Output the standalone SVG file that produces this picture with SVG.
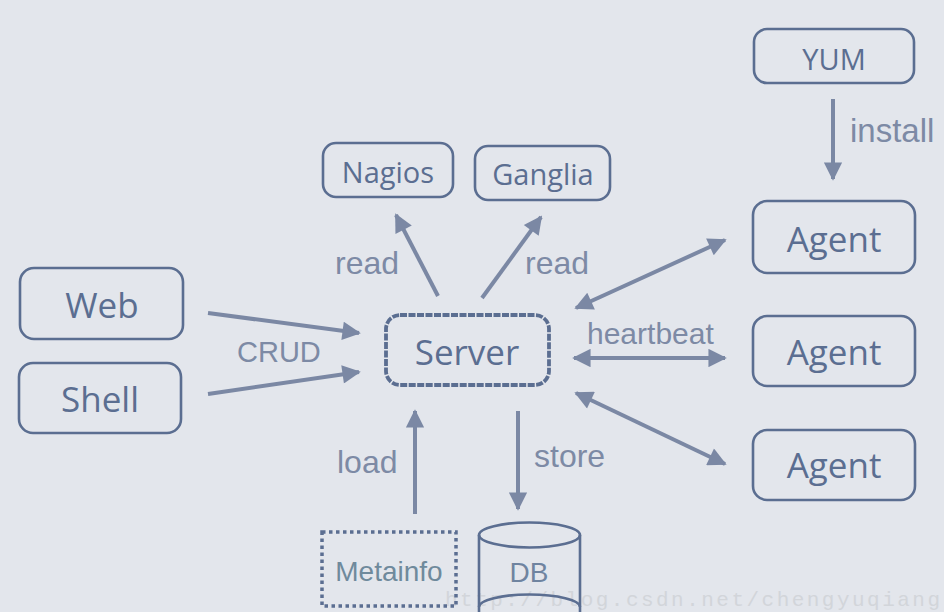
<svg xmlns="http://www.w3.org/2000/svg" width="944" height="612" viewBox="0 0 944 612">
<style>
.node{fill:none;stroke:#5b6e91;stroke-width:2.6}
.ntext{font-family:"Comic Sans MS","Open Sans","DejaVu Sans",sans-serif;fill:#5b6e91;text-anchor:middle}
.big{font-size:35px}
.small{font-size:29px}
.lbl{font-family:"Liberation Sans",Arial,sans-serif;font-size:32px;fill:#7d8aa5}
.conn{stroke:#7b88a4;stroke-width:4;fill:none}
</style>
<defs>
<marker id="ah" viewBox="0 0 10 10" refX="9" refY="5" markerWidth="5" markerHeight="4.6" orient="auto-start-reverse" markerUnits="strokeWidth">
<path d="M0,0 L10,5 L0,10 z" fill="#7b88a4"/>
</marker>
</defs>
<rect width="944" height="612" fill="#e3e6ec"/>
<text x="445" y="606" font-family="Liberation Mono,monospace" font-size="21" fill="#d2d5da" textLength="495">http://blog.csdn.net/chengyuqiang</text>

<g id="connectors">
<line class="conn" x1="833" y1="99" x2="833" y2="179" marker-end="url(#ah)"/>
<line class="conn" x1="208" y1="313" x2="359" y2="333" marker-end="url(#ah)"/>
<line class="conn" x1="208" y1="394" x2="359" y2="372" marker-end="url(#ah)"/>
<line class="conn" x1="438" y1="296" x2="396" y2="215" marker-end="url(#ah)"/>
<line class="conn" x1="482" y1="298" x2="541" y2="217" marker-end="url(#ah)"/>
<line class="conn" x1="576" y1="308" x2="725" y2="240" marker-start="url(#ah)" marker-end="url(#ah)"/>
<line class="conn" x1="574" y1="358" x2="725" y2="358" marker-start="url(#ah)" marker-end="url(#ah)"/>
<line class="conn" x1="576" y1="393" x2="725" y2="464" marker-start="url(#ah)" marker-end="url(#ah)"/>
<line class="conn" x1="415" y1="514" x2="415" y2="411" marker-end="url(#ah)"/>
<line class="conn" x1="518" y1="411" x2="518" y2="509" marker-end="url(#ah)"/>
<text class="lbl" x="850" y="142" style="font-size:33px">install</text>
<text class="lbl" x="237" y="362" style="font-size:29px">CRUD</text>
<text class="lbl" x="335" y="274">read</text>
<text class="lbl" x="525" y="274">read</text>
<text class="lbl" x="587" y="344" style="font-size:30px">heartbeat</text>
<text class="lbl" x="337" y="473">load</text>
<text class="lbl" x="534" y="467">store</text>
</g>

<g id="yum"><rect class="node" x="754" y="29" width="160" height="54" rx="13"/><text class="ntext small" x="834" y="70">YUM</text></g>
<g id="nagios"><rect class="node" x="323" y="143" width="130" height="54" rx="13"/><text class="ntext small" x="388" y="183">Nagios</text></g>
<g id="ganglia"><rect class="node" x="475" y="146" width="135" height="54" rx="13"/><text class="ntext small" x="543" y="185">Ganglia</text></g>
<g id="web"><rect class="node" x="20" y="268" width="163" height="71" rx="14"/><text class="ntext big" x="102" y="318">Web</text></g>
<g id="shell"><rect class="node" x="19" y="363" width="162" height="70" rx="14"/><text class="ntext big" x="100" y="412">Shell</text></g>
<g id="server"><rect x="386" y="315" width="163" height="70" rx="14" fill="none" stroke="#5b6e91" stroke-width="3.8" stroke-dasharray="7 1.5"/><text class="ntext big" x="467" y="365">Server</text></g>
<g id="agent1"><rect class="node" x="753" y="201" width="162" height="72" rx="14"/><text class="ntext big" x="834" y="252">Agent</text></g>
<g id="agent2"><rect class="node" x="753" y="316" width="162" height="70" rx="14"/><text class="ntext big" x="834" y="365">Agent</text></g>
<g id="agent3"><rect class="node" x="753" y="430" width="162" height="70" rx="14"/><text class="ntext big" x="834" y="478">Agent</text></g>
<g id="metainfo"><rect x="322" y="532" width="134" height="74" fill="none" stroke="#5b6e91" stroke-width="3.5" stroke-dasharray="3.5 3.5"/><text x="389" y="581" font-family="Liberation Sans,Arial,sans-serif" font-size="28" fill="#6f8a9c" text-anchor="middle">Metainfo</text></g>
<g id="db"><path d="M479,535 L479,612 M580,535 L580,612" fill="none" stroke="#5b6e91" stroke-width="2.6"/><ellipse cx="529.5" cy="535" rx="50.5" ry="12.5" fill="none" stroke="#5b6e91" stroke-width="2.6"/><path d="M479,607 A50.5,12.5 0 0 1 580,607" fill="none" stroke="#5b6e91" stroke-width="2.6"/><text x="529" y="582" font-family="Liberation Sans,Arial,sans-serif" font-size="28" fill="#6f84a0" text-anchor="middle">DB</text></g>
</svg>
